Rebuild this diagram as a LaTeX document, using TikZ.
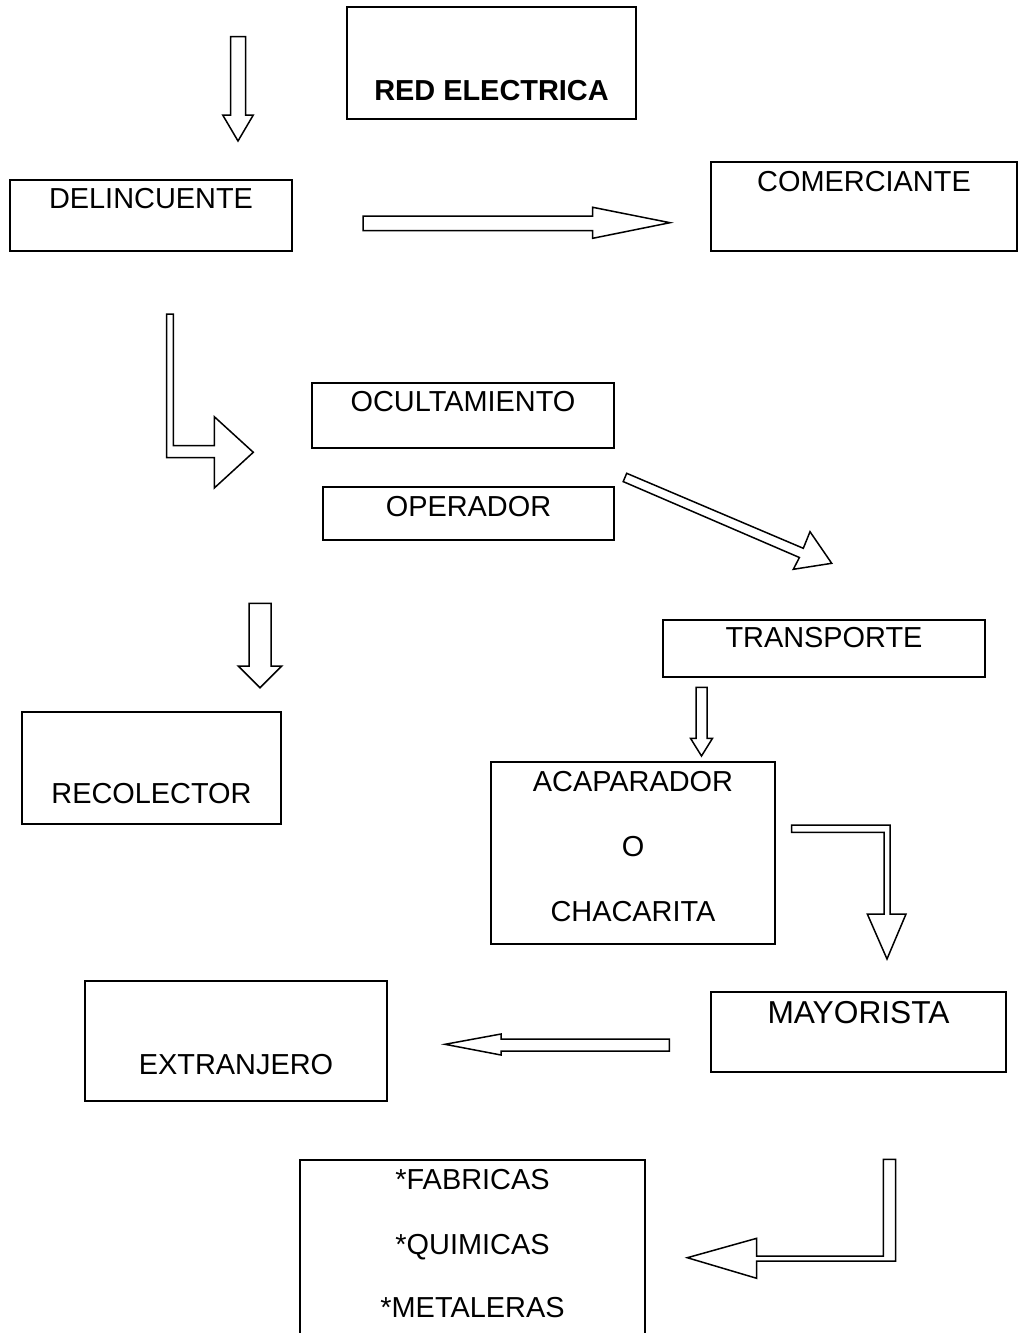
\documentclass[tikz,border=0pt]{standalone}
\usepackage{fontspec}
\setmainfont{Liberation Sans}
\usetikzlibrary{fit}
\tikzset{
  box/.style={draw=black, line width=0.55pt, inner sep=0pt, fill=none},
  lbl/.style={inner sep=0pt, font=\fontsize{14.45}{17}\selectfont, text height=10.35pt, text depth=0pt},
  biglbl/.style={inner sep=0pt, font=\fontsize{15.85}{19}\selectfont, text height=11.35pt, text depth=0pt},
  blockarrow/.style={draw=black, line width=0.75pt, line join=miter, fill=white}
}
\begin{document}
\begin{tikzpicture}[x=0.5pt,y=-0.5pt]
\useasboundingbox (0,0) rectangle (1022,1333);
\clip (0,0) rectangle (1022,1333);
\fill[white] (0,0) rectangle (1022,1333);

% boxes
\node[box, fit={(347,7) (636,119)}] (red) {};
\node[box, fit={(10,180) (292,251)}] (del) {};
\node[box, fit={(711,162) (1017,251)}] (com) {};
\node[box, fit={(312,383) (614,448)}] (ocu) {};
\node[box, fit={(323,487) (614,540)}] (ope) {};
\node[box, fit={(663,620) (985,677)}] (tra) {};
\node[box, fit={(22,712) (281,824)}] (rec) {};
\node[box, fit={(491,762) (775,944)}] (aca) {};
\node[box, fit={(711,992) (1006,1072)}] (may) {};
\node[box, fit={(85,981) (387,1101)}] (ext) {};
\node[box, fit={(300,1160) (645,1345)}] (fab) {};

% labels
\node[lbl, font=\fontsize{14.45}{17}\selectfont\bfseries] (redT) at (491.5,90) {RED ELECTRICA};
\node[lbl] (delT) at (151,198) {DELINCUENTE};
\node[lbl] (comT) at (864,181) {COMERCIANTE};
\node[lbl] (ocuT) at (463,401) {OCULTAMIENTO};
\node[lbl] (opeT) at (468.5,506) {OPERADOR};
\node[lbl] (traT) at (824,637) {TRANSPORTE};
\node[lbl] (recT) at (151.5,793) {RECOLECTOR};
\node[lbl] (acaT1) at (633,781) {ACAPARADOR};
\node[lbl] (acaT2) at (633,846.5) {O};
\node[lbl] (acaT3) at (633,911.5) {CHACARITA};
\node[biglbl] (mayT) at (858.5,1012) {MAYORISTA};
\node[lbl] (extT) at (236,1064) {EXTRANJERO};
\node[lbl] (fabT1) at (472.5,1179) {*FABRICAS};
\node[lbl] (fabT2) at (472.5,1244) {*QUIMICAS};
\node[lbl] (fabT3) at (472.5,1307) {*METALERAS};

% block arrows
\draw[blockarrow] (230.7,36.7) -- (245.7,36.7) -- (245.7,115) -- (253.3,115) -- (238,141) -- (222.7,115) -- (230.7,115) -- cycle;
\draw[blockarrow] (363,216) -- (592.7,216) -- (592.7,207.3) -- (670,222.7) -- (592.7,238.3) -- (592.7,230.7) -- (363,230.7) -- cycle;
\draw[blockarrow] (166.7,314) -- (173.3,314) -- (173.3,445.7) -- (214.3,445.7) -- (214.3,416.7) -- (253.3,452.3) -- (214.3,488) -- (214.3,457.7) -- (166.7,457.7) -- cycle;
\draw[blockarrow] (626.7,473.3) -- (803.3,548.3) -- (810,531.7) -- (831.7,563.3) -- (793.3,569.3) -- (799.4,557.5) -- (623.2,481.6) -- cycle;
\draw[blockarrow] (249,603.3) -- (271,603.3) -- (271,666) -- (281.7,666) -- (260,687.7) -- (238.3,666) -- (249,666) -- cycle;
\draw[blockarrow] (696,687.3) -- (707,687.3) -- (707,738.3) -- (712.5,738.3) -- (701.5,756) -- (690.5,738.3) -- (696,738.3) -- cycle;
\draw[blockarrow] (791.7,825) -- (890,825) -- (890,914) -- (906,914) -- (887,959) -- (867.3,914) -- (884,914) -- (884,832.3) -- (791.7,832.3) -- cycle;
\draw[blockarrow] (669.3,1039) -- (669.3,1051) -- (501,1051) -- (501,1055) -- (445,1044.3) -- (501,1034) -- (501,1039) -- cycle;
\draw[blockarrow] (883.3,1159.3) -- (895.7,1159.3) -- (895.7,1261) -- (756.7,1261) -- (756.7,1278.3) -- (687.3,1257.7) -- (756.7,1238.3) -- (756.7,1256) -- (883.3,1256) -- cycle;
\end{tikzpicture}
\end{document}
